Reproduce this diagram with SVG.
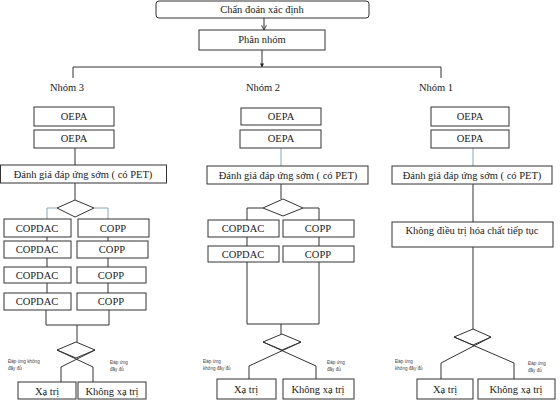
<svg xmlns="http://www.w3.org/2000/svg" width="560" height="401" viewBox="0 0 560 401">
<defs>
<style>
.b{fill:#fff;stroke:#333;stroke-width:1}
.t{font-family:"Liberation Serif",serif;font-size:10.5px;fill:#222;text-anchor:middle}
.s{font-family:"Liberation Sans",sans-serif;font-size:4.6px;fill:#444}
.c{fill:none;stroke:#333;stroke-width:1}
.cb{fill:none;stroke:#8aa6b8;stroke-width:1}
</style>
<marker id="ao" viewBox="0 0 10 10" refX="9" refY="5" markerWidth="6" markerHeight="6" orient="auto"><path d="M1,1 L9,5 L1,9" fill="none" stroke="#333" stroke-width="1.5"/></marker>
<marker id="af" viewBox="0 0 10 10" refX="9" refY="5" markerWidth="4" markerHeight="4" orient="auto"><path d="M0,0 L10,5 L0,10 z" fill="#222"/></marker>
</defs>
<rect width="560" height="401" fill="#fff"/>
<g id="connectors">
<line class="c" x1="264" y1="18" x2="264" y2="30" marker-end="url(#ao)"/>
<line class="c" x1="262" y1="50" x2="262" y2="67" marker-end="url(#af)"/>
<polyline class="c" points="73,78 73,67 441,67 441,78"/>
<line class="c" x1="75" y1="148" x2="75" y2="165"/>
<line class="c" x1="75" y1="183" x2="75" y2="200"/>
<polyline class="cb" points="57,208 47,208 47,219"/>
<polyline class="cb" points="94,208 108,208 108,219"/>
<line class="c" x1="47" y1="237" x2="47" y2="241"/>
<line class="c" x1="47" y1="258" x2="47" y2="267"/>
<line class="c" x1="47" y1="283" x2="47" y2="293"/>
<line class="c" x1="108" y1="237" x2="108" y2="241"/>
<line class="c" x1="108" y1="258" x2="108" y2="267"/>
<line class="c" x1="108" y1="283" x2="108" y2="293"/>
<polyline class="c" points="46,310 46,325 109,325 109,310"/>
<line class="c" x1="77" y1="325" x2="77" y2="342"/>
<polygon class="c" points="76,342 95,350 76,358 57,350"/>
<polyline class="c" points="57,350 93,367 93,382"/>
<polyline class="c" points="95,350 61,367 61,382"/>
<line class="cb" x1="281" y1="148" x2="281" y2="166"/>
<line class="c" x1="281" y1="184" x2="281" y2="199"/>
<polyline class="c" points="263,208 247,208 247,220"/>
<polyline class="c" points="303,208 319,208 319,220"/>
<line class="c" x1="247" y1="237" x2="247" y2="246"/>
<line class="c" x1="319" y1="237" x2="319" y2="246"/>
<polyline class="c" points="247,262 247,324 319,324 319,262"/>
<line class="c" x1="281" y1="324" x2="281" y2="334"/>
<polygon class="c" points="282,334 301,342 282,350 263,342"/>
<polyline class="c" points="263,342 316,366 316,379"/>
<polyline class="c" points="301,342 249,366 249,379"/>
<line class="cb" x1="473" y1="148" x2="473" y2="166"/>
<line class="c" x1="473" y1="184" x2="473" y2="222"/>
<line class="c" x1="473" y1="247" x2="473" y2="329"/>
<polygon class="c" points="473,329 491,337 473,345 454,337"/>
<polyline class="c" points="454,337 514,363 514,379"/>
<polyline class="c" points="491,337 441,363 441,379"/>
</g>
<g id="chan-doan"><rect class="b" x="156" y="1" width="213" height="17" rx="3"/><text class="t" x="262" y="13">Chẩn đoán xác định</text></g>
<g id="phan-nhom"><rect class="b" x="199" y="30" width="126" height="20"/><text class="t" x="262" y="43">Phân nhóm</text></g>
<g id="nhom3-label"><text class="t" x="67" y="91">Nhóm 3</text></g>
<g id="nhom2-label"><text class="t" x="263" y="91">Nhóm 2</text></g>
<g id="nhom1-label"><text class="t" x="436" y="91">Nhóm 1</text></g>
<g id="n3-oepa1"><rect class="b" x="34" y="107" width="80" height="19"/><text class="t" x="74" y="120">OEPA</text></g>
<g id="n3-oepa2"><rect class="b" x="34" y="130" width="80" height="18"/><text class="t" x="74" y="142">OEPA</text></g>
<g id="n3-danhgia"><rect class="b" x="0.5" y="165" width="166" height="18"/><text class="t" x="83" y="177.5">Đánh giá đáp ứng sớm ( có PET)</text></g>
<g id="n3-diamond"><polygon class="b" points="75,200 94,208 75,217 57,208"/></g>
<g id="n3-copdac1"><rect class="b" x="4" y="219" width="67" height="18"/><text class="t" x="37" y="231.5">COPDAC</text></g>
<g id="n3-copdac2"><rect class="b" x="4" y="241" width="67" height="17"/><text class="t" x="37" y="253">COPDAC</text></g>
<g id="n3-copdac3"><rect class="b" x="4" y="267" width="67" height="16"/><text class="t" x="37" y="278.5">COPDAC</text></g>
<g id="n3-copdac4"><rect class="b" x="4" y="293" width="67" height="17"/><text class="t" x="37" y="305">COPDAC</text></g>
<g id="n3-copp1"><rect class="b" x="78" y="219" width="71" height="18"/><text class="t" x="113" y="231.5">COPP</text></g>
<g id="n3-copp2"><rect class="b" x="77" y="241" width="71" height="17"/><text class="t" x="112" y="253">COPP</text></g>
<g id="n3-copp3"><rect class="b" x="77" y="267" width="69" height="16"/><text class="t" x="111" y="278.5">COPP</text></g>
<g id="n3-copp4"><rect class="b" x="77" y="293" width="69" height="17"/><text class="t" x="111" y="305">COPP</text></g>
<g id="n3-label-l"><text class="s" x="8" y="363">Đáp ứng không</text><text class="s" x="8" y="370">đầy đủ</text></g>
<g id="n3-label-r"><text class="s" x="110" y="364">Đáp ứng</text><text class="s" x="110" y="371">đầy đủ</text></g>
<g id="n3-xatri"><rect class="b" x="18" y="382" width="58" height="17"/><text class="t" x="47" y="394.5">Xạ trị</text></g>
<g id="n3-khongxatri"><rect class="b" x="78" y="382" width="68" height="17"/><text class="t" x="112" y="394.5">Không xạ trị</text></g>
<g id="n2-oepa1"><rect class="b" x="241" y="108" width="80" height="17"/><text class="t" x="281" y="120">OEPA</text></g>
<g id="n2-oepa2"><rect class="b" x="240" y="130" width="81" height="18"/><text class="t" x="281" y="142">OEPA</text></g>
<g id="n2-danhgia"><rect class="b" x="207" y="166" width="161" height="18"/><text class="t" x="288" y="178.5">Đánh giá đáp ứng sớm ( có PET)</text></g>
<g id="n2-diamond"><polygon class="b" points="283,199 303,208 283,216 263,208"/></g>
<g id="n2-copdac1"><rect class="b" x="208" y="220" width="71" height="17"/><text class="t" x="243" y="232">COPDAC</text></g>
<g id="n2-copdac2"><rect class="b" x="208" y="246" width="71" height="16"/><text class="t" x="243" y="257.5">COPDAC</text></g>
<g id="n2-copp1"><rect class="b" x="283" y="220" width="71" height="17"/><text class="t" x="318" y="232">COPP</text></g>
<g id="n2-copp2"><rect class="b" x="283" y="246" width="71" height="16"/><text class="t" x="318" y="257.5">COPP</text></g>
<g id="n2-label-l"><text class="s" x="203" y="363">Đáp ứng</text><text class="s" x="203" y="370">không đầy đủ</text></g>
<g id="n2-label-r"><text class="s" x="327" y="364">Đáp ứng</text><text class="s" x="327" y="371">đầy đủ</text></g>
<g id="n2-xatri"><rect class="b" x="217" y="379" width="59" height="20"/><text class="t" x="246" y="392.5">Xạ trị</text></g>
<g id="n2-khongxatri"><rect class="b" x="283" y="379" width="71" height="20"/><text class="t" x="318" y="392.5">Không xạ trị</text></g>
<g id="n1-oepa1"><rect class="b" x="431" y="107" width="78" height="19"/><text class="t" x="470" y="120">OEPA</text></g>
<g id="n1-oepa2"><rect class="b" x="431" y="130" width="78" height="18"/><text class="t" x="470" y="142">OEPA</text></g>
<g id="n1-danhgia"><rect class="b" x="392" y="166" width="160" height="18"/><text class="t" x="472" y="178.5">Đánh giá đáp ứng sớm ( có PET)</text></g>
<g id="n1-khongdieutri"><rect class="b" x="392" y="222" width="161" height="25"/><text class="t" x="472" y="234">Không điều trị hóa chất tiếp tục</text></g>
<g id="n1-label-l"><text class="s" x="395" y="363">Đáp ứng</text><text class="s" x="395" y="370">không đầy đủ</text></g>
<g id="n1-label-r"><text class="s" x="528" y="365">Đáp ứng</text><text class="s" x="528" y="372">đầy đủ</text></g>
<g id="n1-xatri"><rect class="b" x="417" y="379" width="56" height="20"/><text class="t" x="445" y="392.5">Xạ trị</text></g>
<g id="n1-khongxatri"><rect class="b" x="478" y="379" width="77" height="20"/><text class="t" x="516" y="392.5">Không xạ trị</text></g>
</svg>
